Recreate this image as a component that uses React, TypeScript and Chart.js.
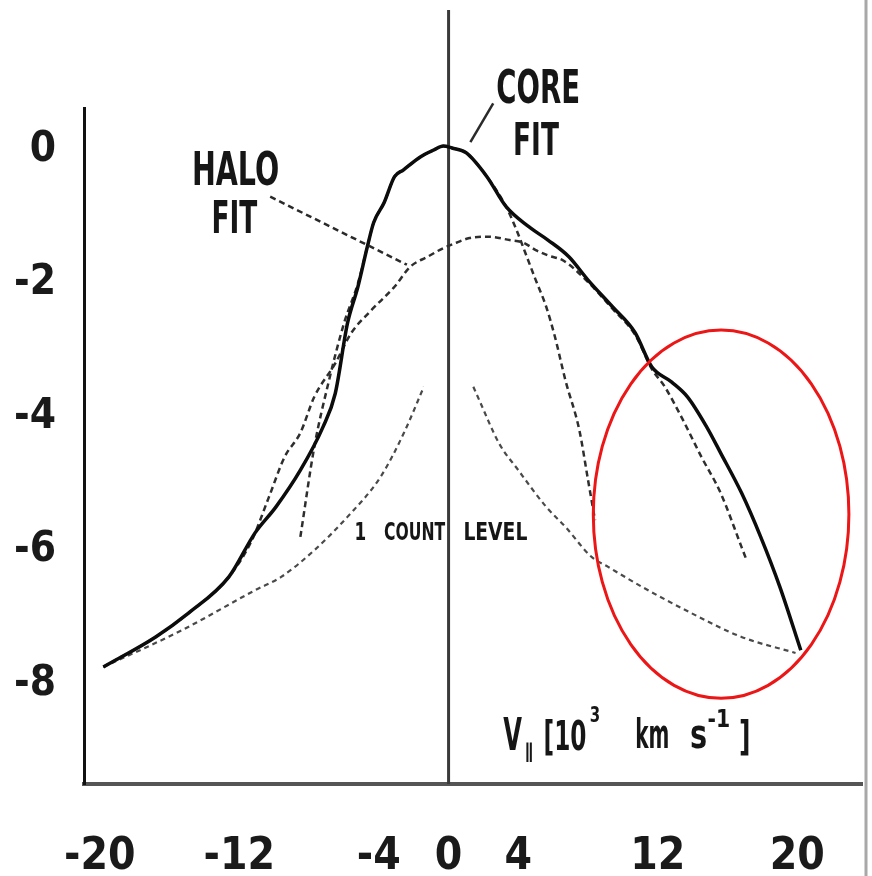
import { useEffect, useRef } from "react";
import { Chart, registerables } from "chart.js";

Chart.register(...registerables);

// Line-of-sight velocity, 10^3 km s^-1, and log intensity of the observed profile
const profileV = [-19.8, -16.8, -14.9, -12.6, -11.1, -9.9, -8.5, -7.2, -6.5, -5.8, -5.2, -4.66, -4.3, -3.7, -3.1, -2.6, -1.6, -0.85, -0.3, 0.2, 1.0, 2.2, 3.3, 4.6, 5.7, 6.9, 8.0, 9.4, 10.7, 11.65, 12.8, 13.7, 14.8, 15.6, 16.8, 17.9, 19.0, 20.2];
const profileLog = [-7.75, -7.3, -6.94, -6.4, -5.74, -5.35, -4.8, -4.15, -3.65, -2.6, -2.05, -1.45, -1.09, -0.79, -0.4, -0.3, -0.1, 0, 0.06, 0.03, -0.04, -0.4, -0.85, -1.15, -1.35, -1.6, -1.95, -2.35, -2.74, -3.25, -3.48, -3.7, -4.15, -4.54, -5.14, -5.8, -6.55, -7.5];

// Broad component ("halo fit")
const haloV = [-19.8, -16.8, -14.9, -12.6, -11.3, -10.3, -9.4, -8.5, -7.7, -6.5, -5.6, -4.5, -3.1, -2.2, -1.2, -0.3, 0.45, 1.2, 2.3, 3.5, 4.3, 5.0, 5.7, 6.6, 8.0, 9.4, 10.7, 11.65, 12.4, 13.35, 14.5, 15.6, 16.8, 17.05];
const haloLog = [-7.75, -7.3, -6.94, -6.4, -5.86, -5.2, -4.6, -4.24, -3.7, -3.2, -2.75, -2.42, -2.05, -1.75, -1.6, -1.47, -1.39, -1.32, -1.3, -1.35, -1.39, -1.5, -1.58, -1.66, -1.98, -2.38, -2.77, -3.28, -3.55, -4.0, -4.6, -5.14, -5.95, -6.12];

// Narrow component ("core fit")
const coreV = [-8.5, -7.7, -6.9, -6.0, -5.2, -4.66, -4.3, -3.7, -3.1, -2.6, -1.6, -0.85, -0.3, 0.2, 1.0, 2.2, 3.3, 3.9, 4.4, 5.0, 5.6, 6.1, 6.7, 7.5, 8.0, 8.4];
const coreLog = [-5.8, -4.45, -3.5, -2.6, -2.0, -1.45, -1.09, -0.79, -0.4, -0.3, -0.1, 0, 0.06, 0.03, -0.04, -0.4, -0.85, -1.2, -1.54, -1.95, -2.35, -2.8, -3.45, -4.2, -4.95, -5.55];

// One-count level, blue and red sides
const countLeftV = [-19.8, -15.3, -11.1, -9.6, -7.7, -5.8, -3.9, -2.56, -1.42];
const countLeftLog = [-7.75, -7.2, -6.6, -6.4, -6.0, -5.5, -4.9, -4.24, -3.55];
const countRightV = [1.42, 1.76, 2.9, 4.0, 5.6, 6.7, 8.2, 9.15, 11.1, 13.9, 16.8, 19.9];
const countRightLog = [-3.55, -3.75, -4.4, -4.8, -5.35, -5.65, -6.1, -6.25, -6.55, -6.94, -7.3, -7.54];

const xTickValues = [-20, -12, -4, 0, 4, 12, 20];
const yTickValues = [0, -2, -4, -6, -8];

const NARROW = '"Liberation Sans Narrow", "DejaVu Sans Condensed", "Roboto Condensed", "DejaVu Sans", sans-serif';
const BASE = '"DejaVu Sans", sans-serif';
const INK = "#161616";

const pts = (xs: number[], ys: number[]) => xs.map((x, i) => ({ x, y: ys[i] }));

function narrowText(
  ctx: CanvasRenderingContext2D,
  text: string,
  x: number,
  y: number,
  size: number,
  sx: number,
  weight = "normal"
) {
  ctx.save();
  ctx.font = `${weight} ${size}px ${BASE}`;
  ctx.fillStyle = INK;
  ctx.textAlign = "left";
  ctx.textBaseline = "alphabetic";
  ctx.translate(x, y);
  ctx.scale(sx, 1);
  ctx.fillText(text, 0, 0);
  ctx.restore();
}

// text, anchor velocity, anchor log value, size, horizontal squeeze, weight
const textLabels: [string, number, number, number, number, string][] = [
  ["CORE", 2.73, 0.7, 46, 0.6, "bold"],
  ["FIT", 3.7, -0.08, 44, 0.6, "bold"],
  ["HALO", -14.72, -0.52, 46, 0.62, "bold"],
  ["FIT", -13.6, -1.24, 44, 0.6, "bold"],
  ["1", -5.4, -5.85, 24, 0.7, "bold"],
  ["COUNT", -3.7, -5.85, 24, 0.65, "bold"],
  ["LEVEL", 0.85, -5.85, 24, 0.78, "bold"],
  ["V", 3.13, -9.0, 44, 0.55, "bold"],
  ["\u2225", 4.35, -9.12, 20, 0.9, "bold"],
  ["[10", 5.45, -9.0, 40, 0.58, "bold"],
  ["3", 8.1, -8.57, 22, 0.68, "bold"],
  ["km", 10.7, -8.96, 40, 0.5, "bold"],
  ["s", 13.85, -8.96, 40, 0.72, "bold"],
  ["-1", 14.85, -8.65, 24, 0.85, "bold"],
  ["]", 16.65, -9.0, 40, 0.63, "bold"],
];

// leader lines from the labels to the curves
const leaders: [number, number, number, number, number[]][] = [
  [2.56, 0.7, 1.25, 0.12, []],
  [-10.23, -0.7, -2.39, -1.72, [6, 4]],
];

const decorations = {
  id: "decorations",
  beforeDatasetsDraw(chart: any) {
    const { ctx, chartArea } = chart;
    const x = chart.scales.x;
    const y = chart.scales.y;
    const px = x.getPixelForValue(0);
    ctx.save();
    ctx.strokeStyle = "#3a3a3a";
    ctx.lineWidth = 3;
    ctx.beginPath();
    ctx.moveTo(px, y.getPixelForValue(2.1));
    ctx.lineTo(px, chartArea.bottom);
    ctx.stroke();
    ctx.restore();
  },
  afterDatasetsDraw(chart: any) {
    const { ctx } = chart;
    const x = chart.scales.x;
    const y = chart.scales.y;

    for (const [x0, y0, x1, y1, dash] of leaders) {
      ctx.save();
      ctx.strokeStyle = "#2a2a2a";
      ctx.lineWidth = 2.5;
      ctx.setLineDash(dash);
      ctx.beginPath();
      ctx.moveTo(x.getPixelForValue(x0), y.getPixelForValue(y0));
      ctx.lineTo(x.getPixelForValue(x1), y.getPixelForValue(y1));
      ctx.stroke();
      ctx.restore();
    }

    for (const [t, vx, vy, size, sx, w] of textLabels) {
      narrowText(ctx, t, x.getPixelForValue(vx), y.getPixelForValue(vy), size, sx, w);
    }

    // highlighted red-wing region
    const cx = x.getPixelForValue(15.63);
    const cy = y.getPixelForValue(-5.46);
    const rx = x.getPixelForValue(15.63 + 7.33) - cx;
    const ry = y.getPixelForValue(-5.46 - 2.76) - cy;
    ctx.save();
    ctx.strokeStyle = "rgb(236, 22, 22)";
    ctx.lineWidth = 3;
    ctx.beginPath();
    ctx.ellipse(cx, cy, rx, ry, 0, 0, Math.PI * 2);
    ctx.stroke();
    ctx.restore();
  },
  afterDraw(chart: any) {
    const { ctx, width, height } = chart;
    ctx.save();
    ctx.strokeStyle = "#a8a8a8";
    ctx.lineWidth = 3;
    ctx.beginPath();
    ctx.moveTo(width - 6, 0);
    ctx.lineTo(width - 6, height);
    ctx.stroke();
    ctx.restore();
  },
};

export default function App() {
  const ref = useRef<HTMLCanvasElement>(null);

  useEffect(() => {
    const canvas = ref.current;
    if (!canvas) return;
    const chart = new Chart(canvas, {
      type: "line",
      data: {
        datasets: [
          {
            label: "profile",
            data: pts(profileV, profileLog),
            borderColor: "#0c0c0c",
            borderWidth: 3.5,
            pointRadius: 0,
            cubicInterpolationMode: "monotone",
          },
          {
            label: "core fit",
            data: pts(coreV, coreLog),
            borderColor: "#2e2e2e",
            borderWidth: 2.5,
            borderDash: [6, 4],
            pointRadius: 0,
            cubicInterpolationMode: "monotone",
          },
          {
            label: "halo fit",
            data: pts(haloV, haloLog),
            borderColor: "#2e2e2e",
            borderWidth: 2.5,
            borderDash: [6, 4],
            pointRadius: 0,
            cubicInterpolationMode: "monotone",
          },
          {
            label: "1 count level",
            data: pts(countLeftV, countLeftLog),
            borderColor: "#4a4a4a",
            borderWidth: 2.2,
            borderDash: [5, 4],
            pointRadius: 0,
            cubicInterpolationMode: "monotone",
          },
          {
            label: "1 count level (red)",
            data: pts(countRightV, countRightLog),
            borderColor: "#4a4a4a",
            borderWidth: 2.2,
            borderDash: [5, 4],
            pointRadius: 0,
            cubicInterpolationMode: "monotone",
          },
        ],
      },
      options: {
        responsive: false,
        devicePixelRatio: 1,
        animation: false,
        layout: { padding: { top: 108, left: 0, right: 2, bottom: 0 } },
        plugins: { legend: { display: false }, tooltip: { enabled: false } },
        scales: {
          x: {
            type: "linear",
            min: -20.91,
            max: 23.75,
            grid: { display: false, drawTicks: false },
            border: { display: true, color: "#555", width: 4 },
            afterBuildTicks: (s: any) => {
              s.ticks = xTickValues.map((v) => ({ value: v }));
            },
            afterFit: (s: any) => {
              s.height = 92;
            },
            ticks: {
              autoSkip: false,
              maxRotation: 0,
              minRotation: 0,
              padding: 47,
              color: "#1a1a1a",
              font: { family: NARROW, size: 44, weight: "bold" },
              callback: (v: any) => String(v),
            },
          },
          y: {
            type: "linear",
            min: -9.505,
            max: 0.63,
            grid: { display: false, drawTicks: false },
            border: { display: true, color: "#111", width: 3 },
            afterBuildTicks: (s: any) => {
              s.ticks = yTickValues.map((v) => ({ value: v }));
            },
            afterFit: (s: any) => {
              s.width = 84;
            },
            ticks: {
              padding: 28,
              color: "#1a1a1a",
              font: { family: NARROW, size: 42, weight: "bold" },
              callback: (v: any) => String(v),
            },
          },
        },
      },
      plugins: [decorations],
    } as any);
    return () => chart.destroy();
  }, []);

  return (
    <div style={{ position: "fixed", left: 0, top: 0, width: 872, height: 876, background: "#fff" }}>
      <canvas ref={ref} width={872} height={876} style={{ display: "block", width: 872, height: 876 }} />
    </div>
  );
}
